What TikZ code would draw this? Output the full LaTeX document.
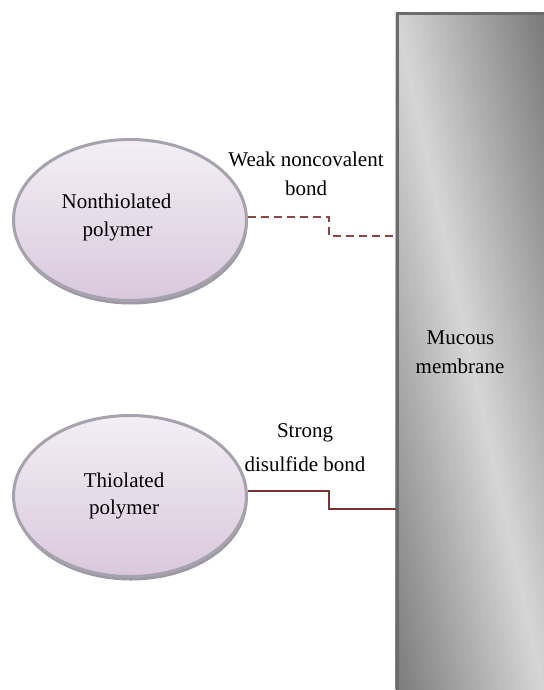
\documentclass[tikz,border=0pt]{standalone}
\usepackage{fontspec}
\setmainfont{Liberation Serif}
\usetikzlibrary{shapes.geometric}
\definecolor{ellborder}{HTML}{A6A2AE}
\definecolor{ellshadow}{HTML}{9C98A4}
\definecolor{elltop}{HTML}{F3EFF5}
\definecolor{ellbot}{HTML}{D9C8DC}
\definecolor{memdark}{HTML}{6A6A6A}
\definecolor{memlight}{HTML}{D6D6D6}
\definecolor{memborder}{HTML}{6C6C6C}
\definecolor{bondcol}{HTML}{8A4646}
\definecolor{bondsolid}{HTML}{7A3434}
\tikzset{
  polyshadow/.style={ellipse, fill=ellshadow, minimum width=233pt, minimum height=161pt, inner sep=0pt},
  polymer/.style={ellipse, draw=ellborder, line width=3pt, top color=elltop, bottom color=ellbot,
    minimum width=233pt, minimum height=161pt, inner sep=0pt},
  lbl/.style={anchor=base, inner sep=0pt, font=\fontsize{21}{28}\selectfont},
  weakbond/.style={draw=bondcol, line width=1.2pt, dash pattern=on 8pt off 5pt},
  strongbond/.style={draw=bondsolid, line width=1.2pt},
}
\begin{document}
\begin{tikzpicture}[x=1pt,y=-1pt]
\useasboundingbox (0,0) rectangle (543,690);
% membrane shading
\begin{scope}
  \clip (395.5,12.5) rectangle (548,695);
  \shade[transform canvas={shift={(469,351)}, rotate=12.32},
    left color=memdark, right color=memdark, middle color=memlight]
    (-170,-420) rectangle (170,420);
\end{scope}
% membrane border
\node[draw=memborder, line width=3pt, minimum width=153pt, minimum height=683pt, inner sep=0pt,
  anchor=north west] (mem) at (395.5,12.5) {};
% ellipses
\node[polyshadow] (sh1) at (131,224) {};
\node[polymer] (p1) at (130,220) {};
\node[polyshadow] (sh2) at (131,500) {};
\node[polymer] (p2) at (130,496) {};
% texts
\node[lbl] (t1a) at (116.5,208) {Nonthiolated};
\node[lbl] (t1b) at (117.5,236) {polymer};
\node[lbl] (t2a) at (124,487) {Thiolated};
\node[lbl] (t2b) at (124,514) {polymer};
\node[lbl] (m1) at (460.5,344) {Mucous};
\node[lbl] (m2) at (460,373) {membrane};
\node[lbl] (w1) at (306,166) {Weak noncovalent};
\node[lbl] (w2) at (306,195) {bond};
\node[lbl] (s1) at (305,437) {Strong};
\node[lbl] (s2) at (305,471) {disulfide bond};
% connectors
\coordinate (k1) at (329,217);
\coordinate (k2) at (329,236);
\coordinate (k3) at (329,491);
\coordinate (k4) at (329,509);
\draw[weakbond] (p1.east |- k1) -- (k1) -- (k2) -- (mem.west |- k2);
\draw[strongbond] (p2.east |- k3) -- (k3) -- (k4) -- (mem.west |- k4);
\end{tikzpicture}
\end{document}
